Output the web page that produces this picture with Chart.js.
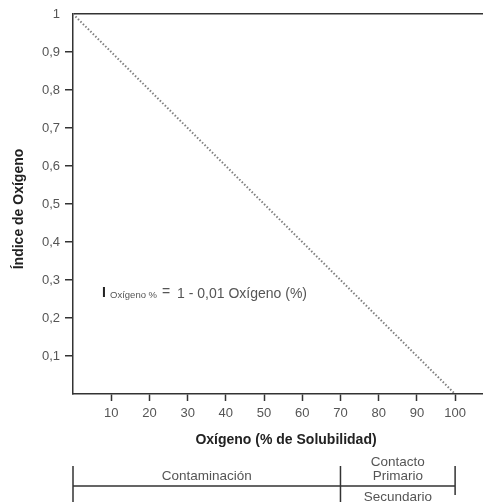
<!DOCTYPE html>
<html>
<head>
<meta charset="utf-8">
<script src="https://cdn.jsdelivr.net/npm/chart.js@4/dist/chart.umd.min.js"></script>
<style>
  html, body { margin: 0; padding: 0; background: #fff; }
  #wrap { width: 483px; height: 502px; position: relative; }
</style>
</head>
<body>
<div id="wrap"><canvas id="chart-area"></canvas></div>
<script>
// Indice de oxigeno vs oxigeno disuelto
var oxigeno = [0, 100];
var indice = [1, 0];
var xTicks = [10, 20, 30, 40, 50, 60, 70, 80, 90, 100];
var yTicks = [0.1, 0.2, 0.3, 0.4, 0.5, 0.6, 0.7, 0.8, 0.9, 1];
// bandas de uso debajo del eje
var bandas = [
    { desde: 0, hasta: 70, texto: ["Contaminación"] },
    { desde: 70, hasta: 100, texto: ["Contacto", "Primario"], abajo: "Secundario" }
];

var FONT = "'Liberation Sans', Arial, sans-serif";
var INK = "#333";

var puntos = [];
for (var i = 0; i < oxigeno.length; i++) {
    puntos.push({ x: oxigeno[i], y: indice[i] });
}

function coma(v) {
    return String(Math.round(v * 10) / 10).replace(".", ",");
}

var extras = {
    id: "extras",
    afterDraw: function(chart) {
        var ctx = chart.ctx;
        var xs = chart.scales.x, ys = chart.scales.y;
        var area = chart.chartArea;
        ctx.save();

        // titulos de ejes
        ctx.fillStyle = "#222";
        ctx.font = "bold 14px " + FONT;
        ctx.textAlign = "center";
        ctx.textBaseline = "middle";
        ctx.fillText("Oxígeno (% de Solubilidad)", (area.left + area.right) / 2 + 8, 440);
        ctx.save();
        ctx.translate(19, (area.top + area.bottom) / 2 + 5);
        ctx.rotate(-Math.PI / 2);
        ctx.fillText("Índice de Oxígeno", 0, 0);
        ctx.restore();

        // formula
        var fx = xs.getPixelForValue(7.6), fy = ys.getPixelForValue(0.27);
        ctx.textAlign = "left";
        ctx.textBaseline = "alphabetic";
        ctx.fillStyle = "#222";
        ctx.font = "bold 14px " + FONT;
        ctx.fillText("I", fx, fy + 6);
        ctx.fillStyle = "#555";
        ctx.font = "9.5px " + FONT;
        ctx.fillText("Oxígeno %", fx + 8, fy + 7);
        ctx.font = "14px " + FONT;
        ctx.fillText("=", fx + 60, fy + 4.5);
        ctx.fillText("1 - 0,01 Oxígeno (%)", fx + 75, fy + 6.5);

        // bandas
        var lineY = 486;
        ctx.strokeStyle = INK;
        ctx.lineWidth = 1.5;
        var x0 = xs.getPixelForValue(bandas[0].desde);
        var x1 = xs.getPixelForValue(bandas[1].desde);
        var x2 = xs.getPixelForValue(bandas[1].hasta);
        ctx.beginPath();
        ctx.moveTo(x0, lineY); ctx.lineTo(x2, lineY);
        ctx.moveTo(x0, 466); ctx.lineTo(x0, 502);
        ctx.moveTo(x1, 466); ctx.lineTo(x1, 502);
        ctx.moveTo(x2, 466); ctx.lineTo(x2, 495);
        ctx.stroke();

        ctx.fillStyle = "#555";
        ctx.font = "13.5px " + FONT;
        ctx.textAlign = "center";
        ctx.textBaseline = "middle";
        bandas.forEach(function(b) {
            var cx = xs.getPixelForValue((b.desde + b.hasta) / 2);
            if (b.texto.length === 1) {
                ctx.fillText(b.texto[0], cx, 476);
            } else {
                ctx.fillText(b.texto[0], cx, 462);
                ctx.fillText(b.texto[1], cx, 476);
            }
            if (b.abajo) ctx.fillText(b.abajo, cx, 497);
        });
        ctx.restore();
    }
};

var ctx = document.getElementById("chart-area").getContext("2d");
var myChart = new Chart(ctx, {
    type: "scatter",
    data: {
        datasets: [{
            data: puntos,
            showLine: true,
            borderColor: "#7f7f7f",
            borderWidth: 2,
            borderDash: [1.5, 2],
            pointRadius: 0,
            fill: false
        }]
    },
    options: {
        responsive: true,
        maintainAspectRatio: false,
        animation: false,
        layout: { padding: { top: 14, right: 0, bottom: 78, left: 0 } },
        plugins: { legend: { display: false }, tooltip: { enabled: false } },
        scales: {
            x: {
                type: "linear",
                min: 0,
                max: 107.3,
                afterFit: function(s) { s.height = 30; },
                afterBuildTicks: function(s) {
                    s.ticks = xTicks.map(function(v) { return { value: v }; });
                },
                border: { display: true, color: INK, width: 1.5 },
                grid: {
                    drawOnChartArea: false,
                    tickLength: 7,
                    tickColor: INK,
                    tickWidth: 1.5
                },
                ticks: {
                    color: "#555",
                    font: { family: FONT, size: 13 },
                    padding: 5,
                    maxRotation: 0
                }
            },
            y: {
                type: "linear",
                min: 0,
                max: 1,
                afterFit: function(s) { s.width = 73; },
                afterBuildTicks: function(s) {
                    s.ticks = yTicks.map(function(v) { return { value: v }; });
                },
                border: { display: true, color: INK, width: 1.5 },
                grid: {
                    drawOnChartArea: true,
                    lineWidth: 1.5,
                    color: function(c) { return c.tick && c.tick.value === 1 ? INK : "rgba(0,0,0,0)"; },
                    tickLength: 8,
                    tickWidth: 1.5,
                    tickColor: function(c) { return c.tick && c.tick.value === 1 ? "rgba(0,0,0,0)" : INK; }
                },
                ticks: {
                    color: "#555",
                    font: { family: FONT, size: 13 },
                    padding: 5,
                    callback: function(v) { return coma(v); }
                }
            }
        }
    },
    plugins: [extras]
});
</script>
</body>
</html>
